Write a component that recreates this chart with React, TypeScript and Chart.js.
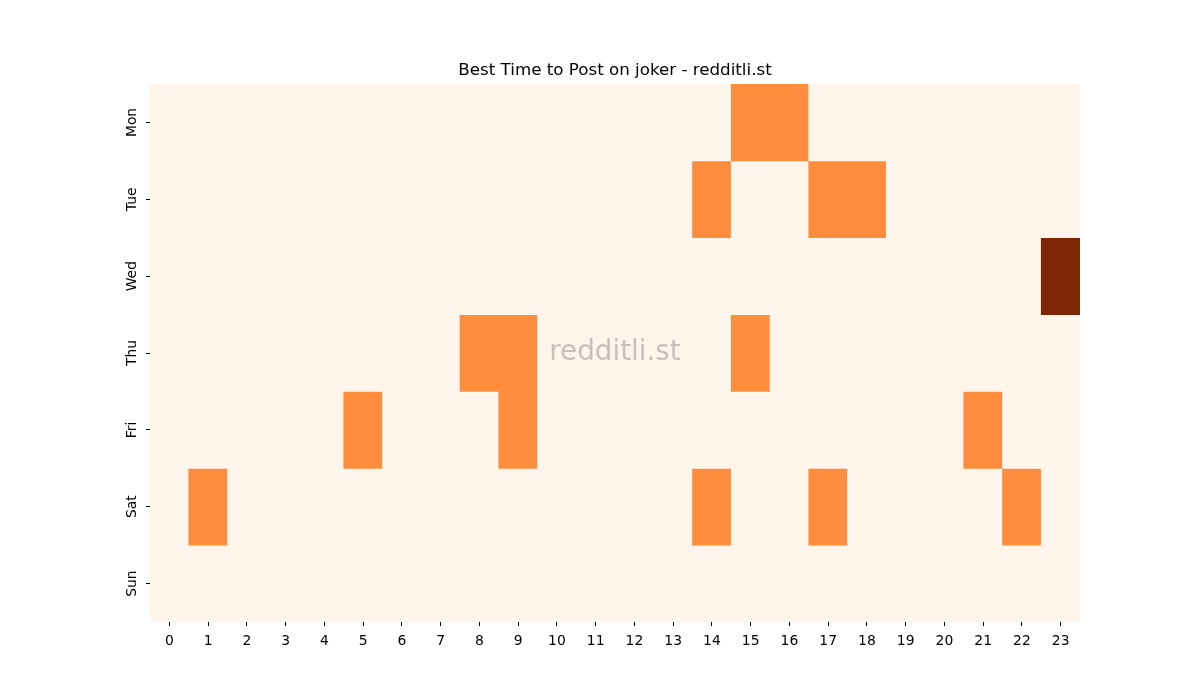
import { useEffect, useRef } from "react";
import { Chart, registerables } from "chart.js";

Chart.register(...registerables);

const hours = Array.from({ length: 24 }, (_, i) => String(i));
const days = ["Mon", "Tue", "Wed", "Thu", "Fri", "Sat", "Sun"];

// posts per hour, one array per weekday (0 = none)
const mon = [0, 0, 0, 0, 0, 0, 0, 0, 0, 0, 0, 0, 0, 0, 0, 1, 1, 0, 0, 0, 0, 0, 0, 0];
const tue = [0, 0, 0, 0, 0, 0, 0, 0, 0, 0, 0, 0, 0, 0, 1, 0, 0, 1, 1, 0, 0, 0, 0, 0];
const wed = [0, 0, 0, 0, 0, 0, 0, 0, 0, 0, 0, 0, 0, 0, 0, 0, 0, 0, 0, 0, 0, 0, 0, 2];
const thu = [0, 0, 0, 0, 0, 0, 0, 0, 1, 1, 0, 0, 0, 0, 0, 1, 0, 0, 0, 0, 0, 0, 0, 0];
const fri = [0, 0, 0, 0, 0, 1, 0, 0, 0, 1, 0, 0, 0, 0, 0, 0, 0, 0, 0, 0, 0, 1, 0, 0];
const sat = [0, 1, 0, 0, 0, 0, 0, 0, 0, 0, 0, 0, 0, 0, 1, 0, 0, 1, 0, 0, 0, 0, 1, 0];
const sun = [0, 0, 0, 0, 0, 0, 0, 0, 0, 0, 0, 0, 0, 0, 0, 0, 0, 0, 0, 0, 0, 0, 0, 0];
const rows = [mon, tue, wed, thu, fri, sat, sun];

// Oranges colormap sampled at 0, 0.5, 1 (vmax = 2)
const palette = ["#fff5eb", "#fd8d3c", "#7f2704"];

const backgroundAndWatermark = {
  id: "backgroundAndWatermark",
  beforeDatasetsDraw(chart: any) {
    const { ctx, chartArea: a } = chart;
    ctx.save();
    ctx.fillStyle = palette[0];
    ctx.fillRect(a.left, a.top, a.right - a.left, a.bottom - a.top);
    ctx.restore();
  },
  afterDatasetsDraw(chart: any) {
    const { ctx, chartArea: a } = chart;
    ctx.save();
    ctx.font = "27.8px 'DejaVu Sans'";
    ctx.fillStyle = "rgba(128,128,128,0.45)";
    ctx.textAlign = "center";
    ctx.textBaseline = "middle";
    ctx.fillText("redditli.st", (a.left + a.right) / 2, (a.top + a.bottom) / 2);
    ctx.restore();
  },
};

const App = () => {
  const canvasRef = useRef<HTMLCanvasElement>(null);

  useEffect(() => {
    document.body.style.margin = "0";
    if (!canvasRef.current) return;
    Chart.defaults.font.family = "'DejaVu Sans', sans-serif";
    Chart.defaults.color = "#000";

    const chart = new Chart(canvasRef.current, {
      type: "bar",
      data: {
        labels: hours,
        datasets: rows.map((row, i) => ({
          label: days[i],
          data: row.map(() => 1),
          backgroundColor: row.map((v) => palette[v]),
          borderWidth: 0,
          barPercentage: 1,
          categoryPercentage: 1,
        })),
      },
      options: {
        responsive: false,
        animation: false,
        layout: { padding: { left: 110, right: 120, top: 0, bottom: 48 } },
        plugins: {
          legend: { display: false },
          tooltip: { enabled: false },
          title: {
            display: true,
            text: "Best Time to Post on joker - redditli.st",
            fullSize: false,
            color: "#000",
            font: { size: 16.7, weight: "normal" },
            padding: { top: 61, bottom: 3 },
          },
        },
        scales: {
          x: {
            stacked: true,
            border: { display: false },
            grid: {
              offset: false,
              drawOnChartArea: false,
              tickLength: 4,
              tickColor: "#000",
            },
            ticks: { autoSkip: false, maxRotation: 0, padding: 7, font: { size: 13.9 } },
            afterFit: (scale: any) => {
              scale.height = 30;
            },
          },
          y: {
            stacked: true,
            min: 0,
            max: 7,
            reverse: true,
            border: { display: false },
            grid: {
              drawOnChartArea: false,
              tickLength: 4,
              tickColor: "#000",
            },
            afterBuildTicks: (scale: any) => {
              scale.ticks = days.map((_, i) => ({ value: i + 0.5 }));
            },
            ticks: {
              minRotation: 90,
              maxRotation: 90,
              crossAlign: "center",
              padding: -2,
              font: { size: 13.9 },
              callback: (_v: any, i: number) => days[i],
            },
            afterFit: (scale: any) => {
              scale.width = 40;
            },
          },
        },
      },
      plugins: [backgroundAndWatermark],
    });

    return () => {
      chart.destroy();
    };
  }, []);

  return (
    <div style={{ width: 1200, height: 700, background: "#fff" }}>
      <canvas ref={canvasRef} width={1200} height={700}></canvas>
    </div>
  );
};

export default App;
